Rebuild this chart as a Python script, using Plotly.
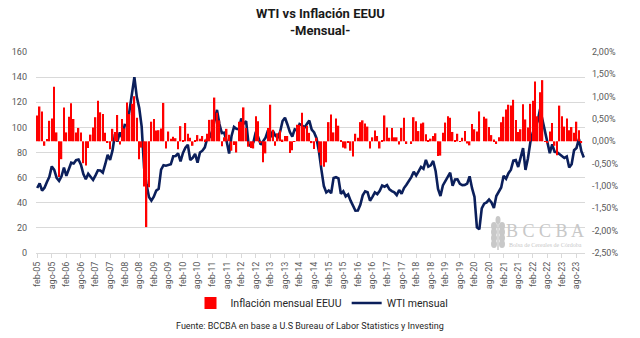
import plotly.graph_objects as go

# Month labels (Spanish), monthly from feb-05 to nov-23
MESES = ["ene", "feb", "mar", "abr", "may", "jun", "jul", "ago", "sep", "oct", "nov", "dic"]
months = []
for year in range(2005, 2024):
    for m in range(12):
        if year == 2005 and m == 0:
            continue
        if year == 2023 and m > 10:
            continue
        months.append(f"{MESES[m]}-{str(year)[2:]}")

# WTI month-end price (USD/bbl)
wti = [
    51.75, 55.40, 49.72, 51.97, 56.50, 60.57, 68.94, 66.24, 59.76, 57.32, 61.04,            # 2005 (feb-dic)
    67.92, 61.41, 66.63, 71.88, 71.29, 73.93, 74.40, 70.26, 62.91, 58.73, 63.13, 61.05,     # 2006
    58.14, 61.79, 65.87, 65.71, 64.01, 70.68, 78.21, 74.04, 81.66, 94.53, 88.71, 95.98,     # 2007
    91.75, 101.84, 101.58, 113.46, 127.35, 140.00, 124.08, 115.46, 100.64, 67.81, 54.43, 44.60,  # 2008
    41.68, 44.76, 49.66, 51.12, 66.31, 69.89, 69.45, 69.96, 70.61, 77.00, 77.28, 79.36,     # 2009
    72.89, 79.66, 83.76, 86.15, 73.97, 75.63, 78.95, 71.92, 79.97, 81.43, 84.11, 91.38,     # 2010
    92.19, 96.97, 106.72, 113.93, 102.70, 95.42, 95.70, 88.81, 79.20, 93.19, 100.36, 98.83, # 2011
    98.48, 107.07, 103.02, 104.87, 86.53, 84.96, 88.06, 96.47, 92.19, 86.24, 88.91, 91.82,  # 2012
    97.49, 92.05, 97.23, 93.46, 91.97, 96.56, 105.03, 107.65, 102.33, 96.38, 92.72, 98.42,  # 2013
    97.49, 102.59, 101.58, 99.74, 102.71, 105.37, 98.17, 95.96, 91.16, 80.54, 66.15, 53.27, # 2014
    48.24, 49.76, 47.60, 59.63, 60.30, 59.47, 47.12, 49.20, 45.09, 46.59, 41.65, 37.04,     # 2015
    33.62, 33.75, 38.34, 45.92, 49.10, 48.33, 41.60, 44.70, 48.24, 46.86, 49.44, 53.72,     # 2016
    52.81, 54.01, 50.60, 49.33, 48.32, 46.04, 50.17, 47.23, 51.67, 54.38, 57.40, 60.42,     # 2017
    64.73, 61.64, 64.94, 68.57, 67.04, 74.15, 68.76, 69.80, 73.25, 65.31, 50.93, 45.41,     # 2018
    53.79, 57.22, 60.14, 63.91, 53.50, 58.47, 58.58, 55.10, 54.07, 54.18, 55.17, 61.06,     # 2019
    51.56, 44.76, 20.48, 18.84, 35.49, 39.27, 40.27, 42.61, 40.22, 35.79, 45.34, 48.52,     # 2020
    52.20, 61.50, 59.16, 63.58, 66.32, 73.47, 73.95, 68.50, 75.03, 83.57, 66.18, 75.21,     # 2021
    88.15, 95.72, 100.28, 104.69, 114.67, 105.76, 98.62, 89.55, 79.49, 86.53, 80.55, 80.26, # 2022
    78.87, 77.05, 75.67, 76.78, 68.09, 70.64, 81.80, 83.63, 90.79, 81.02, 75.96,            # 2023 (ene-nov)
]

# US CPI monthly change (%); None = not yet published
cpi = [
    0.58, 0.78, 0.67, -0.10, 0.05, 0.46, 0.51, 1.22, 0.20, -0.80, -0.40,                    # 2005 (feb-dic)
    0.76, 0.20, 0.55, 0.85, 0.50, 0.20, 0.30, 0.20, -0.49, -0.54, -0.15, 0.15,              # 2006
    0.31, 0.54, 0.91, 0.65, 0.61, 0.19, -0.03, -0.18, 0.28, 0.21, 0.59, -0.07,              # 2007
    0.50, 0.29, 0.87, 0.61, 0.84, 1.01, 0.53, -0.40, -0.14, -1.01, -1.92, -1.03,            # 2008
    0.44, 0.50, 0.24, 0.25, 0.29, 0.86, -0.16, 0.22, 0.06, 0.10, 0.07, -0.18,               # 2009
    0.34, 0.02, 0.41, 0.17, 0.08, -0.10, 0.02, 0.14, 0.06, 0.12, 0.04, 0.17,                # 2010
    0.48, 0.49, 0.98, 0.64, 0.47, -0.11, 0.09, 0.28, 0.15, -0.21, -0.08, -0.25,             # 2011
    0.44, 0.44, 0.76, 0.30, -0.12, -0.15, -0.16, 0.56, 0.45, -0.04, -0.47, -0.27,           # 2012
    0.30, 0.82, 0.26, -0.10, 0.18, 0.24, 0.04, 0.12, 0.12, -0.26, -0.20, -0.01,             # 2013
    0.37, 0.37, 0.64, 0.33, 0.35, 0.19, -0.04, -0.17, 0.08, -0.25, -0.54, -0.57,            # 2014
    -0.47, 0.43, 0.60, 0.20, 0.51, 0.35, 0.01, -0.14, -0.16, -0.04, -0.21, -0.34,           # 2015
    0.17, 0.08, 0.43, 0.47, 0.40, 0.33, -0.16, 0.09, 0.24, 0.12, -0.16, 0.03,               # 2016
    0.58, 0.31, 0.08, 0.30, 0.09, 0.09, -0.07, 0.30, 0.53, -0.06, 0.00, -0.06,              # 2017
    0.54, 0.45, 0.23, 0.40, 0.42, 0.16, 0.01, 0.06, 0.12, 0.18, -0.33, -0.32,               # 2018
    0.19, 0.42, 0.56, 0.53, 0.21, 0.02, 0.17, -0.01, 0.08, 0.23, -0.05, -0.09,              # 2019
    0.39, 0.27, 0.22, 0.67, 0.00, 0.55, 0.51, 0.32, 0.14, 0.04, -0.06, 0.09,                # 2020
    0.43, 0.55, 0.71, 0.82, 0.80, 0.93, 0.48, 0.21, 0.27, 0.83, 0.49, 0.31,                 # 2021
    0.84, 0.91, 1.34, 0.56, 1.10, 1.37, -0.01, -0.04, 0.22, 0.41, -0.10, -0.31,             # 2022
    0.80, 0.56, 0.33, 0.51, 0.25, 0.32, 0.19, 0.44, 0.25, -0.04, None,                      # 2023 (ene-nov)
]

# Axis ticks
x_tick_labels = months[::6]
y_left_ticks = [0, 20, 40, 60, 80, 100, 120, 140, 160]
y_right_ticks = [-2.5, -2.0, -1.5, -1.0, -0.5, 0.0, 0.5, 1.0, 1.5, 2.0]
y_right_text = ["-2,50%", "-2,00%", "-1,50%", "-1,00%", "-0,50%", "0,00%", "0,50%", "1,00%", "1,50%", "2,00%"]

FONT = "Roboto"
GREY = "#595959"
WM = "#C8C8C8"

# plot-area geometry in pixels
L, R, T, B = 36, 55, 52, 85
W, H = 640, 338
PW, PH = W - L - R, H - T - B


def px_x(x):
    return (x - L) / PW


def px_y(y):
    return (H - B - y) / PH


fig = go.Figure()
fig.add_trace(go.Bar(
    x=months, y=cpi, name="Inflación mensual EEUU", yaxis="y2",
    marker=dict(color="#FF0000", line=dict(width=0)),
))
fig.add_trace(go.Scatter(
    x=months, y=wti, name="WTI mensual", mode="lines",
    line=dict(color="#0B1F5B", width=2.6),
))

fig.update_layout(
    width=W, height=H,
    margin=dict(l=L, r=R, t=T, b=B, autoexpand=False),
    paper_bgcolor="white", plot_bgcolor="white",
    font=dict(family=FONT, size=9, color=GREY),
    bargap=0.38,
    showlegend=True,
    legend=dict(
        orientation="h", x=px_x(322), xanchor="center", y=px_y(303), yanchor="middle",
        font=dict(family=FONT, size=10.5, color="#262626"),
        traceorder="normal", bgcolor="rgba(0,0,0,0)",
    ),
    xaxis=dict(
        type="category", tickmode="array", tickvals=x_tick_labels, ticktext=x_tick_labels,
        tickangle=-90, showgrid=False, showline=True, linecolor="#D9D9D9",
        ticks="outside", ticklen=4, tickcolor="#D9D9D9", automargin=False,
        tickfont=dict(family=FONT, size=9, color=GREY),
        range=[-0.5, len(months) - 0.5],
    ),
    yaxis=dict(
        range=[0, 160], tickvals=y_left_ticks, showgrid=True, gridcolor="#D9D9D9",
        gridwidth=1, zeroline=False, tickfont=dict(family=FONT, size=9, color=GREY),
        ticks="", ticklabelstandoff=8, automargin=False,
    ),
    yaxis2=dict(
        range=[-2.5, 2.0], overlaying="y", side="right", tickvals=y_right_ticks,
        ticktext=y_right_text, showgrid=False, zeroline=False, automargin=False,
        tickfont=dict(family=FONT, size=9, color=GREY), ticklabelstandoff=6,
    ),
)

# Title and subtitle
fig.add_annotation(text="<b>WTI vs Inflación EEUU</b>", xref="paper", yref="paper",
                   x=px_x(320), y=px_y(13), xanchor="center", yanchor="middle", showarrow=False,
                   font=dict(family=FONT, size=13, color="#1A1A1A"))
fig.add_annotation(text="<b>-Mensual-</b>", xref="paper", yref="paper",
                   x=px_x(320), y=px_y(31), xanchor="center", yanchor="middle", showarrow=False,
                   font=dict(family=FONT, size=13, color="#1A1A1A"))

# Source note
fig.add_annotation(text="Fuente: BCCBA en base a U.S Bureau of Labor Statistics y Investing",
                   xref="paper", yref="paper", x=px_x(310), y=px_y(326),
                   xanchor="center", yanchor="middle", showarrow=False,
                   font=dict(family=FONT, size=9, color="#262626"))

# Watermark: wheat ear + institution name
stem_x = 498
fig.add_shape(type="line", xref="paper", yref="paper",
              x0=px_x(stem_x), y0=px_y(250), x1=px_x(stem_x), y1=px_y(222),
              line=dict(color=WM, width=1.5))
for yy in [226, 232, 238, 244]:
    for side in (-1, 1):
        cx = stem_x + side * 4
        fig.add_shape(type="circle", xref="paper", yref="paper",
                      x0=px_x(cx - 3), x1=px_x(cx + 3), y0=px_y(yy + 4), y1=px_y(yy - 4),
                      fillcolor=WM, line=dict(width=0))
fig.add_shape(type="circle", xref="paper", yref="paper",
              x0=px_x(stem_x - 2.5), x1=px_x(stem_x + 2.5), y0=px_y(224), y1=px_y(216),
              fillcolor=WM, line=dict(width=0))

fig.add_annotation(text="B C C B A", xref="paper", yref="paper", x=px_x(545), y=px_y(231),
                   xanchor="center", yanchor="middle", showarrow=False,
                   font=dict(family="Liberation Serif", size=18, color=WM))
fig.add_annotation(text="Bolsa de Cereales de Córdoba", xref="paper", yref="paper",
                   x=px_x(545), y=px_y(245), xanchor="center", yanchor="middle",
                   showarrow=False, font=dict(family="Liberation Serif", size=6, color=WM))

fig.write_html("out.html")
